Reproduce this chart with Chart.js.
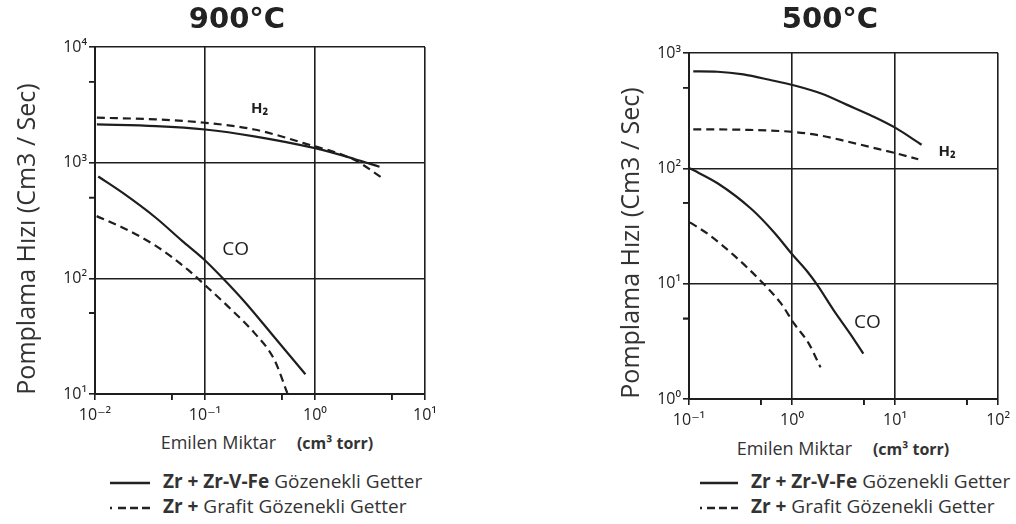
<!DOCTYPE html>
<html>
<head>
<meta charset="utf-8">
<script src="https://cdn.jsdelivr.net/npm/chart.js@4"></script>
<style>
  body { margin:0; background:#fff; width:1016px; height:524px; position:relative; overflow:hidden;
         font-family:'Open Sans','DejaVu Sans',sans-serif; color:#222; }
  .abs { position:absolute; white-space:nowrap; }
  .title { font-family:'DejaVu Sans',sans-serif; font-weight:bold; font-size:29px; line-height:36px; text-align:center; width:200px; top:0; }
  .ytitle { font-size:25px; color:#333; width:380px; height:30px; line-height:30px; text-align:center; transform:rotate(-90deg); }
  .xtitle { font-size:18px; color:#333; width:300px; text-align:center; line-height:22px; }
  .xtitle b { font-size:16px; margin-left:16px; }
  .leg { font-size:19px; color:#333; line-height:25px; }
  .leg svg { vertical-align:middle; margin-right:13px; }
</style>
</head>
<body>

<div class="abs" style="left:0;top:0"><canvas id="c900" width="450" height="430"></canvas></div>
<div class="abs" style="left:560px;top:0"><canvas id="c500" width="456" height="430"></canvas></div>

<div class="abs title" style="left:137px">900°C</div>
<div class="abs title" style="left:730px">500°C</div>

<div class="abs ytitle" style="left:-165px;top:224px">Pomplama Hızı (Cm3 / Sec)</div>
<div class="abs ytitle" style="left:439px;top:228px">Pomplama Hızı (Cm3 / Sec)</div>

<div class="abs xtitle" style="left:117px;top:431px">Emilen Miktar <b>(cm³ torr)</b></div>
<div class="abs xtitle" style="left:693px;top:437px">Emilen Miktar <b>(cm³ torr)</b></div>

<div class="abs leg" style="left:108px;top:469px">
  <div><svg width="42" height="4"><line x1="2" y1="2" x2="42" y2="2" stroke="#222" stroke-width="2.5"/></svg><b>Zr + Zr-V-Fe</b> Gözenekli Getter</div>
  <div><svg width="42" height="4"><line x1="2" y1="2" x2="42" y2="2" stroke="#222" stroke-width="2.5" stroke-dasharray="2 6 8 4 8 4 8 10"/></svg><b>Zr +</b> Grafit Gözenekli Getter</div>
</div>
<div class="abs leg" style="left:698px;top:469px">
  <div><svg width="40" height="4"><line x1="2" y1="2" x2="40" y2="2" stroke="#222" stroke-width="2.5"/></svg><b>Zr + Zr-V-Fe</b> Gözenekli Getter</div>
  <div><svg width="40" height="4"><line x1="2" y1="2" x2="40" y2="2" stroke="#222" stroke-width="2.5" stroke-dasharray="2 5 8 4 8 4 7 10"/></svg><b>Zr +</b> Grafit Gözenekli Getter</div>
</div>

<script>
// ---- 900 C data ----
const h2Vfe900X   = [0.0104, 0.0357, 0.1, 0.28, 1, 2.28, 3.86];
const h2Vfe900Y   = [2140, 2070, 1936, 1690, 1334, 1077, 922];
const h2Graf900X  = [0.0104, 0.0357, 0.1, 0.28, 0.79, 2.28, 4.13];
const h2Graf900Y  = [2450, 2366, 2213, 1936, 1476, 1057, 733];
const coVfe900X   = [0.0107, 0.0179, 0.0357, 0.0619, 0.097, 0.1416, 0.229, 0.397, 0.818];
const coVfe900Y   = [759, 547, 334, 211, 147, 102.6, 62.7, 33.7, 14.8];
const coGraf900X  = [0.01035, 0.0179, 0.0357, 0.0711, 0.1005, 0.1626, 0.282, 0.4256, 0.56];
const coGraf900Y  = [345, 274, 191, 117, 87, 56.9, 33.6, 19.9, 10.2];

// ---- 500 C data ----
const h2Vfe500X   = [0.11, 0.189, 0.337, 0.603, 1.08, 1.92, 3.43, 6.11, 10.2, 18.1];
const h2Vfe500Y   = [693, 688, 652, 586, 520, 445, 355, 282, 223, 160];
const h2Graf500X  = [0.11, 0.337, 1.08, 1.92, 3.43, 6.11, 10.2, 16.8];
const h2Graf500Y  = [218, 216, 206, 192, 171, 151, 135, 120];
const coVfe500X   = [0.102, 0.191, 0.401, 0.671, 1.007, 1.40, 1.75, 2.53, 3.66, 4.92];
const coVfe500Y   = [100, 73.9, 44.6, 27.8, 17.9, 12.8, 9.8, 5.9, 3.69, 2.47];
const coGraf500X  = [0.102, 0.153, 0.277, 0.5, 0.778, 1.045, 1.456, 1.89];
const coGraf500Y  = [34, 26.9, 17.4, 10.5, 6.77, 4.52, 3.02, 1.88];

// tick values (decades get grid + label, 5x gets only a small tick)
const xTicks900 = [0.01, 0.05, 0.1, 0.5, 1, 5, 10];
const yTicks900 = [10, 50, 100, 500, 1000, 5000, 10000];
const xTicks500 = [0.1, 0.5, 1, 5, 10, 50, 100];
const yTicks500 = [1, 5, 10, 50, 100, 500, 1000];

// curve labels (gas names)
const gasNames   = ['H₂', 'CO'];
const labels900X = [0.313, 0.19];
const labels900Y = [2900, 176];
const labels500X = [32, 5.4];
const labels500Y = [138, 4.6];

function pairs(xs, ys) { return xs.map((x, i) => ({ x: x, y: ys[i] })); }
function isDecade(v) { const l = Math.log10(v); return Math.abs(l - Math.round(l)) < 1e-6; }
const supMap = { '-': '⁻', '0': '⁰', '1': '¹', '2': '²', '3': '³', '4': '⁴' };
function sup(v) { return '10' + String(Math.round(Math.log10(v))).split('').map(c => supMap[c]).join(''); }

function line(data, dashed) {
  return { data: data, borderColor: '#1e1e1e', borderWidth: 2.2, borderDash: dashed ? [8, 5] : [],
           pointRadius: 0, cubicInterpolationMode: 'monotone', fill: false };
}

// gas names next to the curves + the small 5x tick marks outside the axes
const extrasPlugin = {
  id: 'extras',
  afterDraw(chart, args, opts) {
    const ctx = chart.ctx, xs = chart.scales.x, ys = chart.scales.y;
    ctx.save();
    ctx.strokeStyle = '#1e1e1e';
    ctx.lineWidth = 1.6;
    ctx.beginPath();
    opts.xTicks.filter(v => !isDecade(v)).forEach(v => {
      const px = xs.getPixelForValue(v);
      ctx.moveTo(px, ys.bottom); ctx.lineTo(px, ys.bottom + 6);
    });
    opts.yTicks.filter(v => !isDecade(v)).forEach(v => {
      const py = ys.getPixelForValue(v);
      ctx.moveTo(xs.left - 6, py); ctx.lineTo(xs.left, py);
    });
    ctx.stroke();

    ctx.fillStyle = '#1e1e1e';
    ctx.textAlign = 'center';
    ctx.textBaseline = 'middle';
    opts.names.forEach((n, i) => {
      ctx.font = (n === 'CO' ? '19px' : 'bold 15px') + " 'Open Sans', 'DejaVu Sans', sans-serif";
      ctx.fillText(n, xs.getPixelForValue(opts.xs[i]), ys.getPixelForValue(opts.ys[i]));
    });
    ctx.restore();
  }
};

function axis(min, max, tickVals, fit, pad) {
  return {
    type: 'logarithmic', min: min, max: max,
    afterBuildTicks: s => { s.ticks = tickVals.map(v => ({ value: v })); },
    afterFit: fit,
    ticks: { autoSkip: false, maxRotation: 0, padding: pad, color: '#222',
             font: { family: "'Open Sans', 'DejaVu Sans', sans-serif", size: 16 },
             callback: v => isDecade(v) ? sup(v) : '' },
    grid: { color: c => (c.tick && isDecade(c.tick.value)) ? '#1e1e1e' : 'rgba(0,0,0,0)',
            tickColor: '#1e1e1e', tickWidth: 1.6, lineWidth: 1.6, tickLength: 6 },
    border: { display: true, color: '#1e1e1e', width: 2 }
  };
}

function makeChart(id, sets, xT, yT, xr, yr, lab, pad, yW, xH) {
  new Chart(document.getElementById(id), {
    type: 'line',
    data: { datasets: [ line(pairs(sets[0], sets[1]), false), line(pairs(sets[2], sets[3]), true),
                        line(pairs(sets[4], sets[5]), false), line(pairs(sets[6], sets[7]), true) ] },
    options: {
      responsive: false, animation: false,
      layout: { padding: pad },
      plugins: { legend: { display: false }, tooltip: { enabled: false },
                 extras: { names: gasNames, xs: lab[0], ys: lab[1], xTicks: xT, yTicks: yT } },
      scales: {
        x: axis(xr[0], xr[1], xT, s => { s.height = xH; }, 6),
        y: axis(yr[0], yr[1], yT, s => { s.width = yW; }, 2)
      }
    },
    plugins: [extrasPlugin]
  });
}

makeChart('c900',
  [h2Vfe900X, h2Vfe900Y, h2Graf900X, h2Graf900Y, coVfe900X, coVfe900Y, coGraf900X, coGraf900Y],
  xTicks900, yTicks900, [0.01, 10], [10, 10000], [labels900X, labels900Y],
  { left: 0, top: 47, right: 25, bottom: 0 }, 95, 36);

makeChart('c500',
  [h2Vfe500X, h2Vfe500Y, h2Graf500X, h2Graf500Y, coVfe500X, coVfe500Y, coGraf500X, coGraf500Y],
  xTicks500, yTicks500, [0.1, 100], [1, 1000], [labels500X, labels500Y],
  { left: 0, top: 53, right: 11, bottom: 0 }, 129, 31);
</script>
</body>
</html>
